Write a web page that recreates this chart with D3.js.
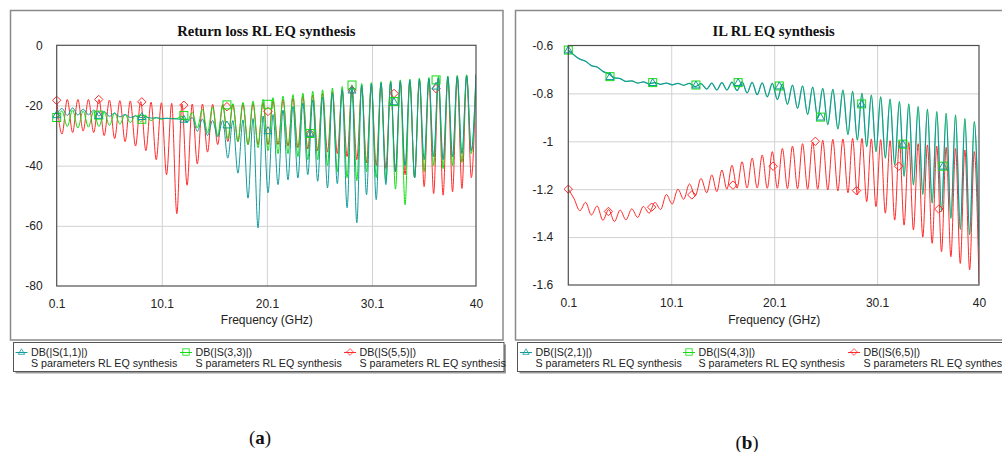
<!DOCTYPE html>
<html>
<head>
<meta charset="utf-8">
<script src="https://cdn.jsdelivr.net/npm/d3@7"></script>
<style>
body { margin: 0; background: #fff; }
svg { display: block; }
text { font-family: "Liberation Sans", Arial, sans-serif; fill: #222; }
</style>
</head>
<body>
<svg id="fig" width="1002" height="452"></svg>
<script>
// ---- data (frequencies of the ripple extrema, dB values there) ----
var xTicks = [0.1, 10.1, 20.1, 30.1, 40];
var rlTicks = [0, -20, -40, -60, -80];
var ilTicks = [-0.6, -0.8, -1, -1.2, -1.4, -1.6];

// return loss panel (a)
var rlFreq = [0.1,0.605,1.109,1.613,2.116,2.618,3.119,3.62,4.12,4.619,5.118,5.615,6.112,6.609,7.104,7.599,8.093,8.587,9.079,9.571,
  10.063,10.553,11.043,11.532,12.021,12.508,12.995,13.481,13.967,14.452,14.936,15.419,15.902,16.383,16.865,17.345,17.825,18.304,18.782,19.259,
  19.736,20.212,20.688,21.162,21.636,22.109,22.582,23.054,23.525,23.995,24.465,24.934,25.402,25.869,26.336,26.802,27.267,27.732,28.195,28.658,
  29.121,29.582,30.043,30.504,30.963,31.422,31.88,32.337,32.794,33.25,33.705,34.159,34.613,35.066,35.518,35.97,36.42,36.87,37.32,37.769,
  38.216,38.664,39.11,39.556,40];
var s11 = [-23.1,-21,-23.3,-20.8,-23.2,-21.2,-23.1,-21.5,-23.5,-22,-23.6,-22.5,-23.8,-23,-24,-23.5,-24,-23.8,-24.2,-24.1,
  -24.3,-24.3,-24.4,-24.5,-24.6,-25.5,-24,-28.6,-24.5,-30,-25,-30.5,-25,-37.5,-25,-42.5,-24.8,-50.8,-24.3,-60.7,
  -23.5,-49,-23,-46.3,-21.5,-44.7,-20.3,-44.1,-19.2,-43,-18.2,-45.2,-17.2,-47.4,-16,-46,-14.8,-54,-13.8,-59,
  -13.2,-49.7,-12.8,-51.3,-12.5,-46.3,-12.2,-42,-11.9,-40,-11.6,-44,-11.3,-38,-11.1,-37,-10.8,-38,-10.5,-37,
  -10.3,-36,-10.1,-35,-9.8];
var s33 = [-24.5,-21.8,-27,-21.5,-27.5,-21.8,-27.2,-22,-27,-22.2,-26.6,-22.5,-26.2,-23,-25.7,-23.3,-25.4,-23.6,-25,-24,
  -24.6,-24.2,-24.4,-24.3,-23.6,-25.5,-22.3,-27.5,-21.2,-29,-20.5,-30,-19.9,-31,-19.4,-32,-19,-33,-18.5,-34,
  -18,-35,-17.4,-36,-16.9,-36,-16.4,-37,-15.9,-38,-15.3,-38,-14.8,-40,-14.2,-42,-13.7,-44,-13.1,-45,
  -12.7,-42,-12.4,-44,-12.1,-45,-11.8,-47.8,-11.5,-53,-11.2,-44,-10.9,-42,-10.7,-40,-10.4,-41,-10.2,-40,
  -10,-39,-9.8,-36,-9.5];
var s55 = [-18.3,-29.5,-18,-29,-18,-28.5,-18,-29,-18,-30,-18.2,-31,-18.4,-32,-18.5,-33.5,-18.7,-35,-18.9,-38,
  -19.1,-43,-19.3,-56,-19.5,-46.5,-19.5,-39.4,-19.5,-35.5,-19.6,-33,-19.6,-32,-19.7,-32,-19.6,-33,-19.4,-33,
  -19.2,-33,-18.6,-33,-18.1,-33.5,-17.5,-34,-17,-34.5,-16.5,-35,-16,-35.5,-15.4,-36,-14.9,-37,-14.4,-38,
  -13.9,-39,-13.5,-40,-13.1,-41,-12.7,-42,-12.4,-43,-12.1,-44,-11.8,-47,-11.5,-49.3,-11.2,-49.8,-10.9,-48.7,
  -10.6,-47.6,-10.3,-44,-10];
var rlMarkFreq = [0.1, 4.1, 8.2, 12.2, 16.3, 20.2, 24.2, 28.2, 32.2, 36.2];
var s11Mark = [-23.1, -23.3, -23.7, -24.6, -26.5, -28.4, -29.3, -14.9, -18.8, -13.6];
var s33Mark = [-24.0, -23.2, -24.6, -23.3, -19.8, -19.6, -29.3, -13.2, -18.7, -11.5];
var s55Mark = [-18.3, -18.0, -18.8, -19.9, -20.4, -22.0, -29.3, -14.9, -16.0, -14.4];

// insertion loss panel (b)
var ilFreq = [0.1,0.66,1.22,1.78,2.34,2.9,3.46,4.02,4.58,5.14,5.7,6.27,6.83,7.39,7.95,8.51,9.07,9.63,10.19,10.75,
  11.31,11.87,12.43,12.99,13.55,14.04,14.53,15.02,15.51,16.0,16.49,16.98,17.47,17.96,18.45,18.94,19.43,19.92,20.41,20.9,
  21.39,21.88,22.37,22.86,23.35,23.84,24.33,24.82,25.31,25.8,26.29,26.78,27.27,27.72,28.18,28.63,29.09,29.54,29.99,30.45,
  30.9,31.36,31.81,32.27,32.72,33.18,33.63,34.09,34.54,34.99,35.45,35.9,36.36,36.81,37.27,37.72,38.18,38.63,39.09,39.54,40];
var s21 = [-0.62,-0.64,-0.657,-0.666,-0.684,-0.69,-0.708,-0.718,-0.735,-0.738,-0.75,-0.748,-0.757,-0.752,-0.76,-0.755,-0.762,-0.757,-0.764,-0.758,
  -0.766,-0.758,-0.772,-0.759,-0.782,-0.757,-0.786,-0.755,-0.786,-0.753,-0.788,-0.752,-0.798,-0.754,-0.805,-0.756,-0.814,-0.758,-0.826,-0.761,
  -0.846,-0.765,-0.863,-0.769,-0.888,-0.774,-0.902,-0.779,-0.93,-0.783,-0.948,-0.786,-0.972,-0.792,-0.995,-0.8,-1.022,-0.807,-1.043,-0.814,
  -1.07,-0.824,-1.099,-0.834,-1.146,-0.844,-1.182,-0.855,-1.222,-0.866,-1.258,-0.876,-1.293,-0.883,-1.322,-0.89,-1.368,-0.905,-1.39,-0.918,-1.44];
// S(4,3) is traced exactly under S(2,1): only its square markers show
var s43 = [-0.62,-0.64,-0.657,-0.666,-0.684,-0.69,-0.708,-0.718,-0.735,-0.738,-0.75,-0.748,-0.757,-0.752,-0.76,-0.755,-0.762,-0.757,-0.764,-0.758,
  -0.766,-0.758,-0.772,-0.759,-0.782,-0.757,-0.786,-0.755,-0.786,-0.753,-0.788,-0.752,-0.798,-0.754,-0.805,-0.756,-0.814,-0.758,-0.826,-0.761,
  -0.846,-0.765,-0.863,-0.769,-0.888,-0.774,-0.902,-0.779,-0.93,-0.783,-0.948,-0.786,-0.972,-0.792,-0.995,-0.8,-1.022,-0.807,-1.043,-0.814,
  -1.07,-0.824,-1.099,-0.834,-1.146,-0.844,-1.182,-0.855,-1.222,-0.866,-1.258,-0.876,-1.293,-0.883,-1.322,-0.89,-1.368,-0.905,-1.39,-0.918,-1.44];
var s65 = [-1.2,-1.24,-1.29,-1.255,-1.308,-1.27,-1.33,-1.285,-1.335,-1.287,-1.328,-1.282,-1.318,-1.272,-1.3,-1.255,-1.285,-1.222,-1.262,-1.2,
  -1.242,-1.178,-1.228,-1.155,-1.215,-1.14,-1.21,-1.12,-1.2,-1.1,-1.196,-1.085,-1.195,-1.07,-1.195,-1.057,-1.196,-1.043,-1.196,-1.03,
  -1.197,-1.02,-1.198,-1.01,-1.2,-1.003,-1.2,-0.996,-1.203,-0.992,-1.207,-0.99,-1.215,-0.988,-1.224,-0.988,-1.252,-0.99,-1.273,-0.993,
  -1.3,-0.997,-1.329,-1.0,-1.35,-1.005,-1.37,-1.01,-1.4,-1.015,-1.426,-1.02,-1.461,-1.025,-1.482,-1.03,-1.51,-1.036,-1.537,-1.043,-1.593];
var s21MarkFreq = [0.1, 4.15, 8.3, 12.5, 16.6, 20.6, 24.6, 28.6, 32.6, 36.5];
var s21Mark = [-0.619, -0.73, -0.755, -0.765, -0.755, -0.769, -0.899, -0.844, -1.012, -1.104];
var s65MarkFreq = [0.1, 4.0, 8.2, 12.1, 16.1, 20.0, 24.1, 28.1, 32.2, 36.1];
var s65Mark = [-1.2, -1.293, -1.275, -1.224, -1.183, -1.104, -1.0, -1.206, -1.104, -1.283];

var TEAL = "#139a9a", GREEN = "#12dd12", RED = "#ff2b2b";

var svg = d3.select("#fig");

function marker(sel, shape, color) {
	if (shape === "tri") {
		sel.append("path").attr("d", "M0,-4L4,2.9L-4,2.9Z");
	} else if (shape === "sq") {
		sel.append("rect").attr("x", -4).attr("y", -4).attr("width", 8).attr("height", 8);
	} else {
		sel.append("path").attr("d", "M0,-4.2L4.2,0L0,4.2L-4.2,0Z");
	}
	sel.selectAll("*").attr("fill", "none").attr("stroke", color).attr("stroke-width", 1);
}

function drawPanel(o) {
	var g = svg.append("g");

	// outer frame of the panel
	g.append("rect")
		.attr("x", o.frame[0]).attr("y", 10.5)
		.attr("width", o.frame[1] - o.frame[0]).attr("height", 329.5)
		.attr("fill", "#fff").attr("stroke", "#8a8a8a").attr("stroke-width", 1.5);

	var x = d3.scaleLinear().domain([0.1, 40]).range([o.px0, o.px1]);
	var y = d3.scaleLinear().domain(o.yDomain).range([o.py1, o.py0]);

	g.append("text")
		.attr("x", (o.px0 + o.px1) / 2).attr("y", 36)
		.attr("text-anchor", "middle")
		.style("font-family", "'Liberation Serif', 'Times New Roman', serif")
		.style("font-weight", "bold").style("font-size", "14.6px").style("fill", "#111")
		.text(o.title);

	// grid
	g.append("g")
		.attr("transform", "translate(" + o.px0 + ",0)")
		.call(d3.axisLeft(y).tickValues(o.yTicks.slice(1, -1)).tickSize(-(o.px1 - o.px0)).tickFormat(""))
		.call(function(a) { a.select(".domain").remove(); a.selectAll("line").attr("stroke", "#d2d2d2"); });
	g.append("g")
		.attr("transform", "translate(0," + o.py1 + ")")
		.call(d3.axisBottom(x).tickValues(xTicks.slice(1, -1)).tickSize(-(o.py1 - o.py0)).tickFormat(""))
		.call(function(a) { a.select(".domain").remove(); a.selectAll("line").attr("stroke", "#d2d2d2"); });

	// tick labels
	g.append("g")
		.attr("transform", "translate(" + o.px0 + ",0)")
		.call(d3.axisLeft(y).tickValues(o.yTicks).tickSize(0).tickPadding(o.yPad).tickFormat(function(d) { return String(d); }))
		.call(function(a) {
			a.select(".domain").remove();
			a.selectAll("text").style("font-size", "12px").style("font-family", "'Liberation Sans', Arial, sans-serif").attr("fill", "#222");
		});
	g.append("g")
		.attr("transform", "translate(0," + o.py1 + ")")
		.call(d3.axisBottom(x).tickValues(xTicks).tickSize(0).tickPadding(13.5).tickFormat(function(d) { return String(d); }))
		.call(function(a) {
			a.select(".domain").remove();
			a.selectAll("text").style("font-size", "12px").style("font-family", "'Liberation Sans', Arial, sans-serif").attr("fill", "#222");
		});

	g.append("text")
		.attr("x", (o.px0 + o.px1) / 2 + 0.5).attr("y", 324)
		.attr("text-anchor", "middle").style("font-size", "12px")
		.text("Frequency (GHz)");

	// traces
	var clipId = "clip" + o.id;
	g.append("clipPath").attr("id", clipId).append("rect")
		.attr("x", o.px0).attr("y", o.py0 - 6).attr("width", o.px1 - o.px0).attr("height", o.py1 - o.py0 + 6);
	var plot = g.append("g").attr("clip-path", "url(#" + clipId + ")");

	var line = d3.line()
		.x(function(d) { return x(d[0]); })
		.y(function(d) { return y(d[1]); })
		.curve(d3.curveMonotoneX);

	o.series.forEach(function(s) {
		plot.append("path")
			.datum(d3.zip(s.freq, s.vals))
			.attr("fill", "none").attr("stroke", s.color).attr("stroke-width", s.width || 1)
			.attr("d", line);
	});
	o.series.forEach(function(s) {
		d3.zip(s.markFreq, s.markVals).forEach(function(p) {
			var m = g.append("g").attr("transform", "translate(" + x(p[0]) + "," + y(p[1]) + ")");
			marker(m, s.shape, s.color);
		});
	});

	// plot frame
	g.append("rect")
		.attr("x", o.px0).attr("y", o.py0)
		.attr("width", o.px1 - o.px0).attr("height", o.py1 - o.py0)
		.attr("fill", "none").attr("stroke", "#505050").attr("stroke-width", 1.2);

	// legend box with its shadow
	var lx0 = o.legend[0], lx1 = o.legend[1];
	g.append("rect").attr("x", lx0 + 2).attr("y", 344.5).attr("width", lx1 - lx0).attr("height", 29)
		.attr("fill", "#9a9a9a");
	g.append("rect").attr("x", lx0).attr("y", 342.5).attr("width", lx1 - lx0).attr("height", 29)
		.attr("fill", "#fff").attr("stroke", "#555").attr("stroke-width", 1);

	o.legendOrder.forEach(function(s, i) {
		var cx = o.legendX[i];
		var lg = g.append("g");
		lg.append("line").attr("x1", cx - 6).attr("x2", cx + 6).attr("y1", 352.5).attr("y2", 352.5)
			.attr("stroke", s.color).attr("stroke-width", 1);
		marker(lg.append("g").attr("transform", "translate(" + cx + "," + 352 + ") scale(0.8)"), s.shape, s.color);
		lg.append("text").attr("x", cx + 9.5).attr("y", 356)
			.style("font-size", "10.7px").text(s.label);
		lg.append("text").attr("x", cx + 9.5).attr("y", 366.5)
			.style("font-size", "10.7px").text("S parameters RL EQ synthesis");
	});
}

var rl11 = { freq: rlFreq, vals: s11, color: TEAL, shape: "tri", markFreq: rlMarkFreq, markVals: s11Mark, label: "DB(|S(1,1)|)" };
var rl33 = { freq: rlFreq, vals: s33, color: GREEN, shape: "sq", markFreq: rlMarkFreq, markVals: s33Mark, label: "DB(|S(3,3)|)" };
var rl55 = { freq: rlFreq, vals: s55, color: RED, shape: "dia", markFreq: rlMarkFreq, markVals: s55Mark, label: "DB(|S(5,5)|)" };

drawPanel({
	id: "a", frame: [10.5, 503], px0: 56.7, px1: 476, py0: 45.3, py1: 286,
	yDomain: [-80, 0], yTicks: rlTicks, yPad: 14, title: "Return loss RL EQ synthesis",
	series: [rl55, rl33, rl11],
	legend: [13.5, 504], legendX: [21.5, 186, 350], legendOrder: [rl11, rl33, rl55]
});

var il21 = { freq: ilFreq, vals: s21, color: TEAL, width: 1.25, shape: "tri", markFreq: s21MarkFreq, markVals: s21Mark, label: "DB(|S(2,1)|)" };
var il43 = { freq: ilFreq, vals: s43, color: GREEN, width: 0.6, shape: "sq", markFreq: s21MarkFreq, markVals: s21Mark, label: "DB(|S(4,3)|)" };
var il65 = { freq: ilFreq, vals: s65, color: RED, shape: "dia", markFreq: s65MarkFreq, markVals: s65Mark, label: "DB(|S(6,5)|)" };

drawPanel({
	id: "b", frame: [515.5, 1012], px0: 568.3, px1: 979, py0: 45.5, py1: 285,
	yDomain: [-1.6, -0.6], yTicks: ilTicks, yPad: 15, title: "IL RL EQ synthesis",
	series: [il43, il65, il21],
	legend: [517.5, 1012], legendX: [526, 689, 854], legendOrder: [il21, il43, il65]
});

// sub-figure captions
function caption(cx, base, letter) {
	var t = svg.append("text").attr("x", cx).attr("y", base).attr("text-anchor", "middle")
		.style("font-family", "'Liberation Serif', 'Times New Roman', serif").style("font-size", "19px").style("fill", "#111");
	t.append("tspan").text("(");
	t.append("tspan").style("font-weight", "bold").text(letter);
	t.append("tspan").text(")");
}
caption(260, 444, "a");
caption(747, 448.5, "b");
</script>
</body>
</html>
